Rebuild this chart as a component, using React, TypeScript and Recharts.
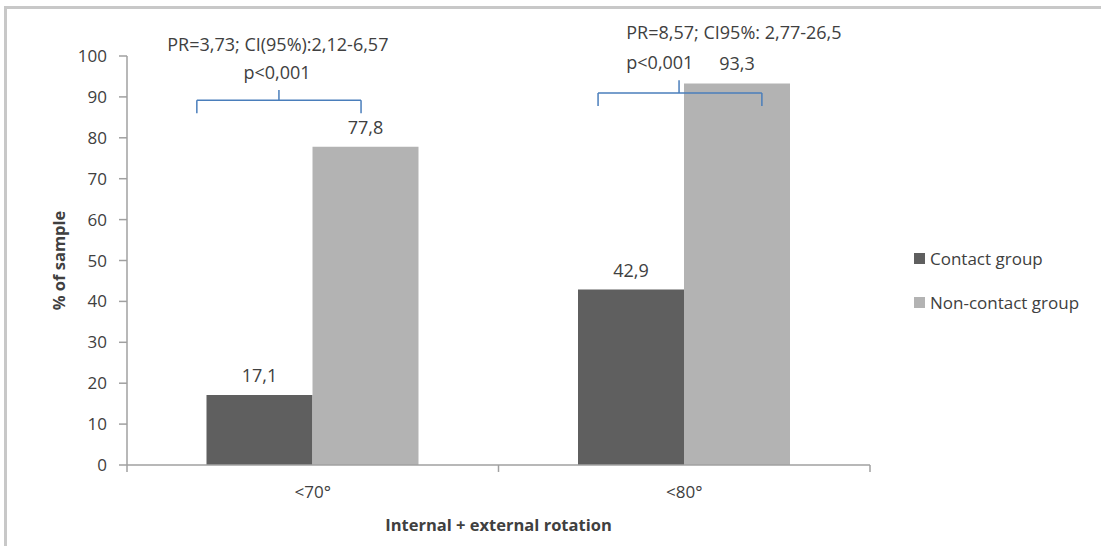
import React from 'react';
import { BarChart, Bar, XAxis, YAxis, LabelList, Legend, ReferenceLine, ReferenceDot } from 'recharts';

const categories = ['<70°', '<80°'];
const contactGroup = [17.1, 42.9];
const nonContactGroup = [77.8, 93.3];
const yTicks = [0, 10, 20, 30, 40, 50, 60, 70, 80, 90, 100];
const groupTicks = [0, 0.5, 1];

const data = categories.map((name, i) => ({
  name,
  contact: contactGroup[i],
  nonContact: nonContactGroup[i],
}));

// brace + statistics annotations, in axis units (x: 0..1 across the plot, y: % of sample)
const braces = [
  { x0: 0.094, x1: 0.315, xm: 0.2045, y: 89.2, yEnd: 86.0, yTip: 91.7 },
  { x0: 0.634, x1: 0.8545, xm: 0.743, y: 90.95, yEnd: 87.8, yTip: 94.1 },
];
const notes = [
  { x: 0.203, y: 102.7, text: 'PR=3,73; CI(95%):2,12-6,57', anchor: 'center' },
  { x: 0.202, y: 95.9, text: 'p<0,001', anchor: 'center' },
  { x: 0.672, y: 105.6, text: 'PR=8,57; CI95%: 2,77-26,5', anchor: 'right' },
  { x: 0.672, y: 98.3, text: 'p<0,001', anchor: 'right' },
];

const FONT = '"Open Sans", sans-serif';
const TEXT = '#404040';
const AXIS = '#a0a0a0';
const BRACE = '#4a7ebb';

const fmt = (v: any) => String(v).replace('.', ',');

const renderLegend = (props: any) => (
  <div style={{ fontFamily: FONT, fontSize: 17, color: TEXT }}>
    {(props.payload || []).map((entry: any) => (
      <div key={entry.value} style={{ display: 'flex', alignItems: 'center', height: 44 }}>
        <span style={{ width: 11, height: 11, background: entry.color, marginRight: 5, display: 'inline-block' }} />
        {entry.value}
      </div>
    ))}
  </div>
);

const YTitle = (props: any) => {
  const vb = props.viewBox;
  const x = vb.x + 11;
  const y = vb.y + vb.height / 2;
  return (
    <text x={x} y={y} transform={`rotate(-90 ${x} ${y})`} textAnchor="middle" dominantBaseline="central"
      fill={TEXT} fontSize={16.5} fontWeight="bold" fontFamily={FONT}>
      % of sample
    </text>
  );
};

export default function App() {
  return (
    <div style={{ position: 'absolute', left: 0, top: 0, width: 1101, height: 546, background: '#fff' }}>
      <div style={{ position: 'absolute', left: 4, top: 6, width: 1097, height: 540, borderTop: '3px solid #c8c8c8', borderLeft: '3px solid #c8c8c8' }} />
      <BarChart
        width={1101}
        height={546}
        data={data}
        margin={{ top: 56, right: 231, left: 47, bottom: 11 }}
        barCategoryGap="21.4%"
        barGap={0}
        style={{ fontFamily: FONT }}
      >
        <XAxis
          xAxisId={0}
          type="number"
          domain={[0, 1]}
          ticks={groupTicks}
          allowDataOverflow
          height={0}
          tick={false}
          axisLine={false}
          tickLine={false}
        />
        <XAxis
          xAxisId="cat"
          dataKey="name"
          height={70}
          tickLine={false}
          tickSize={0}
          tickMargin={21}
          axisLine={{ stroke: AXIS, strokeWidth: 1.5 }}
          tick={{ fill: TEXT, fontSize: 17, fontFamily: FONT }}
          label={{ value: 'Internal + external rotation', position: 'insideBottom', offset: 4, fill: TEXT, fontSize: 16.5, fontWeight: 'bold', fontFamily: FONT }}
        />
        <YAxis
          domain={[0, 100]}
          ticks={yTicks}
          interval={0}
          width={80}
          tickSize={8}
          tickMargin={12}
          axisLine={{ stroke: AXIS, strokeWidth: 1.5 }}
          tickLine={{ stroke: AXIS, strokeWidth: 1.5 }}
          tick={{ fill: TEXT, fontSize: 17, fontFamily: FONT }}
          label={{ content: YTitle }}
        />
        <Legend
          layout="vertical"
          align="center"
          verticalAlign="middle"
          content={renderLegend}
          wrapperStyle={{ left: 914, top: 236, width: 180 }}
        />
        <Bar xAxisId="cat" dataKey="contact" name="Contact group" fill="#5f5f5f" isAnimationActive={false}>
          <LabelList dataKey="contact" position="top" offset={13} formatter={fmt} fill={TEXT} fontSize={18} fontFamily={FONT} />
        </Bar>
        <Bar xAxisId="cat" dataKey="nonContact" name="Non-contact group" fill="#b3b3b3" isAnimationActive={false}>
          <LabelList dataKey="nonContact" position="top" offset={13} formatter={fmt} fill={TEXT} fontSize={18} fontFamily={FONT} />
        </Bar>
        {/* tick marks between the groups, as in the original category axis */}
        {groupTicks.map((t) => (
          <ReferenceLine key={`t${t}`} xAxisId={0} ifOverflow="visible" stroke={AXIS} strokeWidth={1.5}
            segment={[{ x: t, y: 0 }, { x: t, y: -1.7 }]} />
        ))}
        {braces.map((b, i) => [
          <ReferenceLine key={`h${i}`} xAxisId={0} ifOverflow="visible" stroke={BRACE} strokeWidth={1.5}
            segment={[{ x: b.x0, y: b.y }, { x: b.x1, y: b.y }]} />,
          <ReferenceLine key={`l${i}`} xAxisId={0} ifOverflow="visible" stroke={BRACE} strokeWidth={1.5}
            segment={[{ x: b.x0, y: b.y }, { x: b.x0, y: b.yEnd }]} />,
          <ReferenceLine key={`r${i}`} xAxisId={0} ifOverflow="visible" stroke={BRACE} strokeWidth={1.5}
            segment={[{ x: b.x1, y: b.y }, { x: b.x1, y: b.yEnd }]} />,
          <ReferenceLine key={`m${i}`} xAxisId={0} ifOverflow="visible" stroke={BRACE} strokeWidth={1.5}
            segment={[{ x: b.xm, y: b.y }, { x: b.xm, y: b.yTip }]} />,
        ])}
        {notes.map((n, i) => (
          <ReferenceDot key={`n${i}`} xAxisId={0} x={n.x} y={n.y} r={0} ifOverflow="visible" fill="none" stroke="none"
            label={{ value: n.text, position: n.anchor as any, offset: 0, fill: TEXT, fontSize: 18, fontFamily: FONT }} />
        ))}
      </BarChart>
    </div>
  );
}
